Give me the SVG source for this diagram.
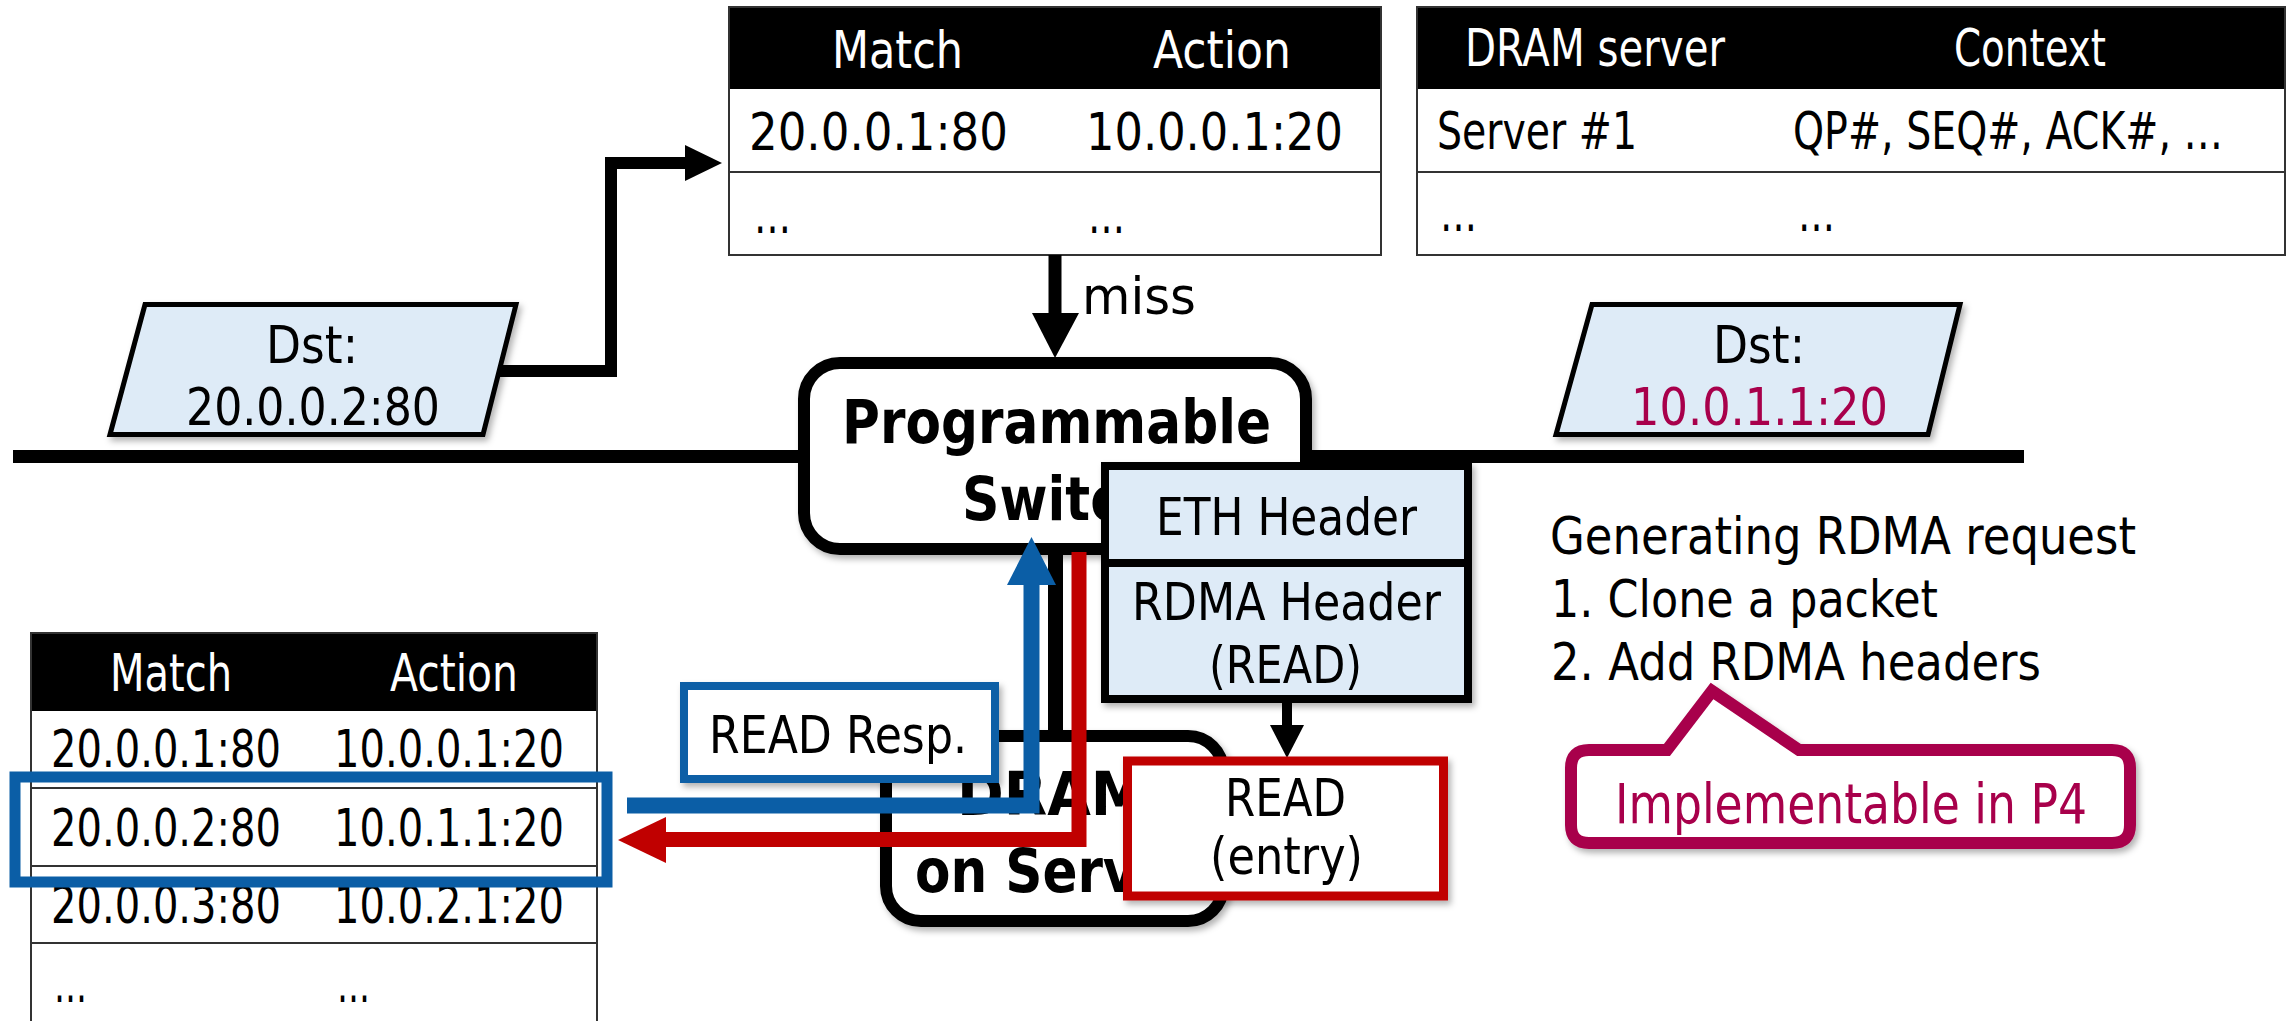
<svg xmlns="http://www.w3.org/2000/svg" width="2286" height="1021" viewBox="0 0 2286 1021">
  <style>
    .t { font-family: "DejaVu Sans", "Liberation Sans", sans-serif; font-size: 51px; fill: #000; }
    .bold { font-weight: bold; font-size: 61px; }
    .big { font-size: 56px; }
    .wt { fill: #fff; }
    .crim { fill: #A8004B; }
    .grid { fill: none; stroke: #333; stroke-width: 2; }
    .hdr { fill: #000; }
    .pkt { fill: #DEEBF7; stroke: #000; stroke-width: 5; stroke-linejoin: miter; }
    .rbox { fill: #fff; stroke: #000; stroke-width: 12; }
    .conn { fill: none; stroke: #000; stroke-linejoin: miter; }
    .blue { stroke: #0B5EA6; }
    .red { stroke: #C00000; }
  </style>
  <defs>
    <filter id="shadow" x="-10%" y="-10%" width="125%" height="135%">
      <feDropShadow dx="3" dy="4" stdDeviation="3" flood-color="#000" flood-opacity="0.3"/>
    </filter>
  </defs>

  <rect width="2286" height="1021" fill="#fff"/>

  <!-- network bus -->
  <rect id="bus" x="13" y="450" width="2011" height="13" fill="#000"/>

  <!-- match-action table (top) -->
  <g id="table-top">
    <rect class="hdr" x="729" y="7" width="652" height="82"/>
    <rect class="grid" x="729" y="7" width="652" height="248"/>
    <line class="grid" x1="729" y1="172" x2="1381" y2="172"/>
    <text class="t wt" x="832" y="68" textLength="131" lengthAdjust="spacingAndGlyphs">Match</text>
    <text class="t wt" x="1153" y="68" textLength="138" lengthAdjust="spacingAndGlyphs">Action</text>
    <text class="t" x="749" y="150" textLength="259" lengthAdjust="spacingAndGlyphs">20.0.0.1:80</text>
    <text class="t" x="1086" y="150" textLength="257" lengthAdjust="spacingAndGlyphs">10.0.0.1:20</text>
    <text class="t" x="754" y="233" textLength="37" lengthAdjust="spacingAndGlyphs">…</text>
    <text class="t" x="1088" y="233" textLength="37" lengthAdjust="spacingAndGlyphs">…</text>
  </g>

  <!-- DRAM server context table -->
  <g id="table-context">
    <rect class="hdr" x="1417" y="7" width="868" height="82"/>
    <rect class="grid" x="1417" y="7" width="868" height="248"/>
    <line class="grid" x1="1417" y1="172" x2="2285" y2="172"/>
    <text class="t wt" x="1465" y="66" textLength="260" lengthAdjust="spacingAndGlyphs">DRAM server</text>
    <text class="t wt" x="1954" y="66" textLength="152" lengthAdjust="spacingAndGlyphs">Context</text>
    <text class="t" x="1437" y="149" textLength="200" lengthAdjust="spacingAndGlyphs">Server #1</text>
    <text class="t" x="1793" y="149" textLength="430" lengthAdjust="spacingAndGlyphs">QP#, SEQ#, ACK#, …</text>
    <text class="t" x="1440" y="231" textLength="37" lengthAdjust="spacingAndGlyphs">…</text>
    <text class="t" x="1798" y="231" textLength="37" lengthAdjust="spacingAndGlyphs">…</text>
  </g>

  <!-- connectors -->
  <g id="connectors">
    <!-- packet lookup into table -->
    <path class="conn" d="M500,371 H611 V163 H688" stroke-width="12"/>
    <polygon points="685,145 722,163 685,181" fill="#000"/>
    <!-- miss -->
    <line class="conn" x1="1055" y1="255" x2="1055" y2="316" stroke-width="13"/>
    <polygon points="1032,313 1079,313 1055,358" fill="#000"/>
    <text class="t" x="1082" y="314" textLength="114" lengthAdjust="spacingAndGlyphs">miss</text>
  </g>

  <!-- incoming packet -->
  <g id="packet-in" filter="url(#shadow)">
    <polygon class="pkt" points="145,304.5 516,304.5 483,434.5 110,434.5"/>
    <text class="t" x="266" y="363" textLength="92" lengthAdjust="spacingAndGlyphs">Dst:</text>
    <text class="t" x="186" y="425" textLength="254" lengthAdjust="spacingAndGlyphs">20.0.0.2:80</text>
  </g>

  <!-- rewritten packet -->
  <g id="packet-out" filter="url(#shadow)">
    <polygon class="pkt" points="1592,304.5 1960,304.5 1928,434.5 1556,434.5"/>
    <text class="t" x="1713" y="363" textLength="92" lengthAdjust="spacingAndGlyphs">Dst:</text>
    <text class="t crim" x="1631" y="425" textLength="257" lengthAdjust="spacingAndGlyphs">10.0.1.1:20</text>
  </g>

  <!-- programmable switch -->
  <g id="switch" filter="url(#shadow)">
    <rect class="rbox" x="804" y="363" width="502" height="186" rx="36"/>
    <text class="t bold" x="842" y="443" textLength="429" lengthAdjust="spacingAndGlyphs">Programmable</text>
    <text class="t bold" x="962" y="520" textLength="196" lengthAdjust="spacingAndGlyphs">Switch</text>
  </g>

  <!-- switch to DRAM server link -->
  <g id="link">
    <line x1="1055.5" y1="552" x2="1055.5" y2="734" stroke="#000" stroke-width="15"/>
  </g>

  <!-- DRAM server -->
  <g id="dram" filter="url(#shadow)">
    <rect class="rbox" x="886" y="736" width="337" height="185" rx="35"/>
    <text class="t bold" x="957" y="815" textLength="190" lengthAdjust="spacingAndGlyphs">DRAM</text>
    <text class="t bold" x="915" y="892" textLength="282" lengthAdjust="spacingAndGlyphs">on Server</text>
  </g>

  <!-- switch table (bottom left) -->
  <g id="table-switch">
    <rect class="hdr" x="31" y="633" width="566" height="78"/>
    <rect class="grid" x="31" y="633" width="566" height="400"/>
    <line class="grid" x1="31" y1="788" x2="597" y2="788"/>
    <line class="grid" x1="31" y1="866" x2="597" y2="866"/>
    <line class="grid" x1="31" y1="943" x2="597" y2="943"/>
    <text class="t wt" x="110" y="691" textLength="122" lengthAdjust="spacingAndGlyphs">Match</text>
    <text class="t wt" x="390" y="691" textLength="128" lengthAdjust="spacingAndGlyphs">Action</text>
    <text class="t" x="51" y="767" textLength="230" lengthAdjust="spacingAndGlyphs">20.0.0.1:80</text>
    <text class="t" x="334" y="767" textLength="230" lengthAdjust="spacingAndGlyphs">10.0.0.1:20</text>
    <text class="t" x="51" y="846" textLength="230" lengthAdjust="spacingAndGlyphs">20.0.0.2:80</text>
    <text class="t" x="334" y="846" textLength="230" lengthAdjust="spacingAndGlyphs">10.0.1.1:20</text>
    <text class="t" x="51" y="923" textLength="230" lengthAdjust="spacingAndGlyphs">20.0.0.3:80</text>
    <text class="t" x="334" y="923" textLength="230" lengthAdjust="spacingAndGlyphs">10.0.2.1:20</text>
    <text class="t" x="54" y="1002" textLength="33" lengthAdjust="spacingAndGlyphs">…</text>
    <text class="t" x="337" y="1002" textLength="33" lengthAdjust="spacingAndGlyphs">…</text>
    <rect x="15" y="777" width="592" height="105" fill="none" stroke="#0B5EA6" stroke-width="11"/>
  </g>

  <!-- READ response label -->
  <g id="read-resp" filter="url(#shadow)">
    <rect x="684" y="686" width="311" height="93" fill="#fff" stroke="#0B5EA6" stroke-width="8"/>
    <text class="t" x="709" y="753" textLength="258" lengthAdjust="spacingAndGlyphs">READ Resp.</text>
  </g>

  <!-- request / response paths -->
  <g id="flows">
    <path class="conn blue" d="M627,805.5 H1031.5 V583" stroke-width="16"/>
    <polygon points="1007,585 1056,585 1031.5,537" fill="#0B5EA6"/>
    <path class="conn red" d="M1079,552 V839.5 H664" stroke-width="15"/>
    <polygon points="666,817 666,863 618,840" fill="#C00000"/>
  </g>

  <!-- generated RDMA headers -->
  <g id="rdma-headers" filter="url(#shadow)">
    <rect x="1105" y="466" width="363" height="233" fill="#DEEBF7" stroke="#000" stroke-width="8"/>
    <line x1="1105" y1="563" x2="1468" y2="563" stroke="#000" stroke-width="8"/>
    <text class="t" x="1156" y="535" textLength="261" lengthAdjust="spacingAndGlyphs">ETH Header</text>
    <text class="t" x="1132" y="620" textLength="309" lengthAdjust="spacingAndGlyphs">RDMA Header</text>
    <text class="t" x="1209" y="683" textLength="153" lengthAdjust="spacingAndGlyphs">(READ)</text>
  </g>

  <g id="header-to-read">
    <line x1="1287" y1="703" x2="1287" y2="728" stroke="#000" stroke-width="10"/>
    <polygon points="1270,725 1304,725 1287,758" fill="#000"/>
  </g>

  <!-- READ request -->
  <g id="read-entry" filter="url(#shadow)">
    <rect x="1127.5" y="761" width="316" height="135" fill="#fff" stroke="#C00000" stroke-width="9"/>
    <text class="t" x="1225" y="816" textLength="121" lengthAdjust="spacingAndGlyphs">READ</text>
    <text class="t" x="1210" y="874" textLength="153" lengthAdjust="spacingAndGlyphs">(entry)</text>
  </g>

  <!-- steps -->
  <g id="steps">
    <text class="t" x="1550" y="554" textLength="586" lengthAdjust="spacingAndGlyphs">Generating RDMA request</text>
    <text class="t" x="1551" y="617" textLength="387" lengthAdjust="spacingAndGlyphs">1. Clone a packet</text>
    <text class="t" x="1551" y="680" textLength="490" lengthAdjust="spacingAndGlyphs">2. Add RDMA headers</text>
  </g>

  <!-- P4 callout -->
  <g id="callout" filter="url(#shadow)">
    <path d="M1589,750 H1667 L1712,691 L1799,750 H2112 Q2130,750 2130,768 V825 Q2130,843 2112,843 H1589 Q1571,843 1571,825 V768 Q1571,750 1589,750 Z" fill="#fff" stroke="#A8004B" stroke-width="12" stroke-linejoin="miter"/>
    <text class="t big crim" x="1615" y="823" textLength="472" lengthAdjust="spacingAndGlyphs">Implementable in P4</text>
  </g>
</svg>
